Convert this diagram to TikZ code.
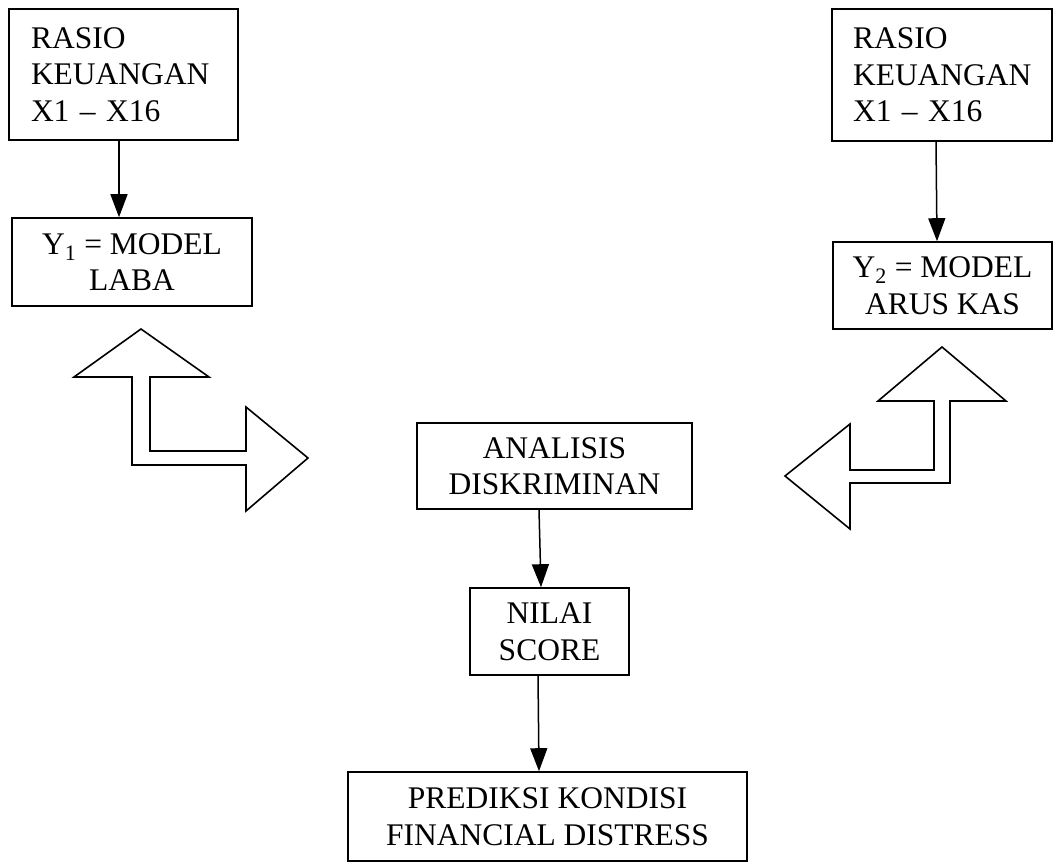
\documentclass[tikz,border=0pt]{standalone}
\usepackage{fontspec}
\setmainfont{Liberation Serif}
\usetikzlibrary{arrows.meta}

\tikzset{
  box/.style={draw, line width=1.6pt, align=center, inner sep=0pt,
    font=\fontsize{31.5}{36.5}\selectfont},
  flow/.style={line width=1.5pt, -{Triangle[length=23pt,width=17pt]}},
  bent/.style={draw, line width=1.6pt, line join=miter}
}

\begin{document}
\begin{tikzpicture}[x=1pt, y=-1pt]
                \useasboundingbox (0,0) rectangle (1056,867);

                % Input boxes
                \node[box, align=left, inner xsep=22pt, text width=185pt, minimum height=131pt] (rasioA) at (123.5,74.5) {RASIO\\KEUANGAN\\X1 – X16};
                \node[box, align=left, inner xsep=21pt, text width=178pt, minimum height=132pt] (rasioB) at (942,75) {RASIO\\KEUANGAN\\X1 – X16};

                % Models
                \node[box, minimum width=240pt, minimum height=88pt] (modelA) at (132,262) {Y\textsubscript{1} = MODEL\\LABA};
                \node[box, minimum width=219pt, minimum height=87pt] (modelB) at (942.5,285.5) {Y\textsubscript{2} = MODEL\\ARUS KAS};

                % Middle column
                \node[box, minimum width=275pt, minimum height=86pt] (analisis) at (554.5,466) {ANALISIS\\DISKRIMINAN};
                \node[box, minimum width=159pt, minimum height=87pt] (nilai) at (549.5,631.5) {NILAI\\SCORE};
                \node[box, minimum width=399pt, minimum height=89pt] (prediksi) at (547.5,816.5) {PREDIKSI KONDISI\\FINANCIAL DISTRESS};

                % Arrows
                \draw[flow] ([xshift=-4.5pt]rasioA.south) -- ([xshift=-13pt]modelA.north);
                \draw[flow] ([xshift=-6pt]rasioB.south) -- ([xshift=-5.5pt]modelB.north);
                \draw[flow] ([xshift=-15.5pt]analisis.south) -- ([xshift=-8.5pt]nilai.north);
                \draw[flow] ([xshift=-11.5pt]nilai.south) -- ([xshift=-8.5pt]prediksi.north);

                % Bent arrow, left
                \draw[bent] (141,329) -- (209,377) -- (150,377) -- (150,451) -- (246,451)
                  -- (246,407) -- (308,458) -- (246,511) -- (246,465) -- (132,465)
                  -- (132,377) -- (74,377) -- cycle;

                % Bent arrow, right
                \draw[bent] (942,347) -- (1006,401) -- (950,401) -- (950,483) -- (850,483)
                  -- (850,529) -- (785,476) -- (850,424) -- (850,470) -- (934,470)
                  -- (934,401) -- (878,401) -- cycle;

            \end{tikzpicture}
\end{document}
